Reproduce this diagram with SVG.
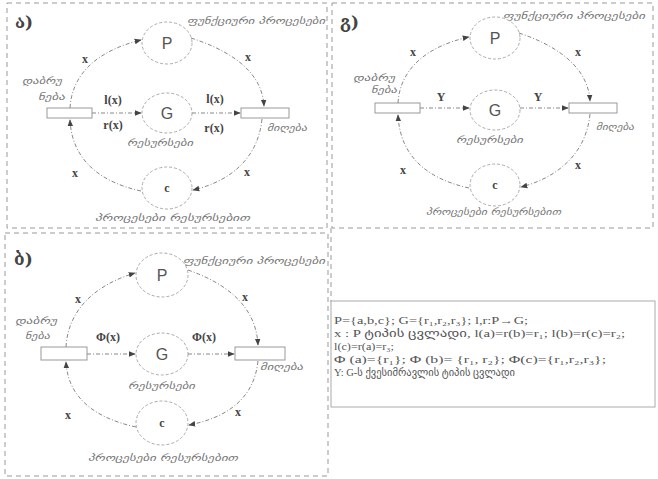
<svg xmlns="http://www.w3.org/2000/svg" width="658" height="479" viewBox="0 0 658 479">
<defs>
<marker id="ah" viewBox="0 0 10 10" refX="9" refY="5" markerWidth="7" markerHeight="7" orient="auto-start-reverse" markerUnits="userSpaceOnUse">
<path d="M0,1 L10,5 L0,9 z" fill="#444"/>
</marker>
<style>
.frame{fill:none;stroke:#999;stroke-width:1;stroke-dasharray:5,4}
.node{fill:#fff;stroke:#aaa;stroke-width:1;stroke-dasharray:3,2}
.box{fill:#fff;stroke:#999;stroke-width:1}
.edge{fill:none;stroke:#888;stroke-width:1;stroke-dasharray:4,2,1,2;marker-end:url(#ah)}
.geo{font-family:"DejaVu Sans",sans-serif;font-size:9px;fill:#777;font-style:italic}
.lbl{font-family:"Liberation Serif",serif;font-size:12px;font-weight:bold;fill:#444}
.nm{font-family:"Liberation Sans",sans-serif;font-size:16px;fill:#555;text-anchor:middle}
.pl{font-family:"DejaVu Serif",serif;font-size:17px;font-weight:bold;fill:#444}
.tx{font-family:"Liberation Serif","DejaVu Sans",serif;font-size:11px;fill:#555}
</style>
</defs>
<rect width="658" height="479" fill="#fff"/>
<!-- frames -->
<rect class="frame" x="7" y="3" width="320" height="225"/>
<rect class="frame" x="332" y="3" width="321" height="225"/>
<rect class="frame" x="5" y="233" width="323" height="243"/>
<line class="frame" x1="331" y1="228" x2="331" y2="302"/>

<!-- Panel a -->
<g id="panel-a">
<text class="pl" x="15" y="28">ა)</text>
<text class="geo" x="187" y="24" textLength="138" lengthAdjust="spacingAndGlyphs">ფუნქციური პროცესები</text>
<text class="geo" x="22" y="84" textLength="40" lengthAdjust="spacingAndGlyphs">დაბრუ</text>
<text class="geo" x="38" y="100" textLength="27" lengthAdjust="spacingAndGlyphs">ნება</text>
<text class="geo" x="267" y="131" textLength="40" lengthAdjust="spacingAndGlyphs">მიღება</text>
<text class="geo" x="127" y="146" textLength="66" lengthAdjust="spacingAndGlyphs">რესურსები</text>
<text class="geo" x="95" y="221" textLength="155" lengthAdjust="spacingAndGlyphs">პროცესები რესურსებით</text>
</g>
<g id="a-P"><ellipse class="node" cx="167" cy="43" rx="25" ry="21"/><text class="nm" x="167" y="49">P</text></g>
<g id="a-G"><ellipse class="node" cx="167" cy="113" rx="25" ry="20"/><text class="nm" x="167" y="119">G</text></g>
<g id="a-c"><ellipse class="node" cx="167" cy="188" rx="25" ry="21"/><text class="lbl" x="167" y="192" text-anchor="middle">c</text></g>
<g id="a-start"><rect class="box" x="47" y="108" width="45" height="10"/></g>
<g id="a-end"><rect class="box" x="241" y="108" width="48" height="10"/></g>
<g id="a-edges">
<path class="edge" d="M70,108 C72,72 100,50 141,40"/>
<path class="edge" d="M191,38 C228,50 262,70 264,106"/>
<path class="edge" d="M92,113 L141,113"/>
<path class="edge" d="M192,113 L240,113"/>
<path class="edge" d="M262,119 C258,160 228,182 193,190"/>
<path class="edge" d="M141,191 C100,182 72,160 70,120"/>
<text class="lbl" x="85" y="63" text-anchor="middle">x</text>
<text class="lbl" x="248" y="61" text-anchor="middle">x</text>
<text class="lbl" x="113" y="104" text-anchor="middle">l(x)</text>
<text class="lbl" x="113" y="129" text-anchor="middle">r(x)</text>
<text class="lbl" x="215" y="103" text-anchor="middle">l(x)</text>
<text class="lbl" x="214" y="132" text-anchor="middle">r(x)</text>
<text class="lbl" x="75" y="177" text-anchor="middle">x</text>
<text class="lbl" x="247" y="176" text-anchor="middle">x</text>
</g>

<!-- Panel g -->
<g id="panel-g">
<text class="pl" x="340" y="28">გ)</text>
<text class="geo" x="503" y="19" textLength="142" lengthAdjust="spacingAndGlyphs">ფუნქციური პროცესები</text>
<text class="geo" x="353" y="81" textLength="42" lengthAdjust="spacingAndGlyphs">დაბრუ</text>
<text class="geo" x="371" y="93" textLength="26" lengthAdjust="spacingAndGlyphs">ნება</text>
<text class="geo" x="596" y="130" textLength="38" lengthAdjust="spacingAndGlyphs">მიღება</text>
<text class="geo" x="456" y="143" textLength="67" lengthAdjust="spacingAndGlyphs">რესურსები</text>
<text class="geo" x="426" y="215" textLength="135" lengthAdjust="spacingAndGlyphs">პროცესები რესურსებით</text>
</g>
<g id="g-P"><ellipse class="node" cx="495" cy="38" rx="25" ry="21"/><text class="nm" x="495" y="44">P</text></g>
<g id="g-G"><ellipse class="node" cx="495" cy="110" rx="25" ry="20"/><text class="nm" x="495" y="116">G</text></g>
<g id="g-c"><ellipse class="node" cx="495" cy="185" rx="25" ry="21"/><text class="lbl" x="495" y="189" text-anchor="middle">c</text></g>
<g id="g-start"><rect class="box" x="375" y="103" width="45" height="10"/></g>
<g id="g-end"><rect class="box" x="569" y="103" width="48" height="10"/></g>
<g id="g-edges">
<path class="edge" d="M398,103 C400,68 428,46 469,37"/>
<path class="edge" d="M519,33 C555,45 588,66 590,101"/>
<path class="edge" d="M420,108 L469,108"/>
<path class="edge" d="M520,108 L568,108"/>
<path class="edge" d="M590,114 C586,155 556,178 521,187"/>
<path class="edge" d="M469,188 C428,179 400,157 398,115"/>
<text class="lbl" x="413" y="56" text-anchor="middle">x</text>
<text class="lbl" x="578" y="56" text-anchor="middle">x</text>
<text class="lbl" x="441" y="101" text-anchor="middle">Y</text>
<text class="lbl" x="538" y="101" text-anchor="middle">Y</text>
<text class="lbl" x="403" y="174" text-anchor="middle">x</text>
<text class="lbl" x="578" y="169" text-anchor="middle">x</text>
</g>

<!-- Panel b -->
<g id="panel-b">
<text class="pl" x="14" y="265">ბ)</text>
<text class="geo" x="183" y="264" textLength="142" lengthAdjust="spacingAndGlyphs">ფუნქციური პროცესები</text>
<text class="geo" x="15" y="324" textLength="42" lengthAdjust="spacingAndGlyphs">დაბრუ</text>
<text class="geo" x="25" y="339" textLength="25" lengthAdjust="spacingAndGlyphs">ნება</text>
<text class="geo" x="260" y="370" textLength="43" lengthAdjust="spacingAndGlyphs">მიღება</text>
<text class="geo" x="128" y="389" textLength="67" lengthAdjust="spacingAndGlyphs">რესურსები</text>
<text class="geo" x="88" y="461" textLength="150" lengthAdjust="spacingAndGlyphs">პროცესები რესურსებით</text>
</g>
<g id="b-P"><ellipse class="node" cx="162" cy="275" rx="26" ry="22"/><text class="nm" x="162" y="281">P</text></g>
<g id="b-G"><ellipse class="node" cx="162" cy="354" rx="26" ry="21"/><text class="nm" x="162" y="360">G</text></g>
<g id="b-c"><ellipse class="node" cx="162" cy="423" rx="26" ry="22"/><text class="lbl" x="162" y="427" text-anchor="middle">c</text></g>
<g id="b-start"><rect class="box" x="41" y="347" width="46" height="13"/></g>
<g id="b-end"><rect class="box" x="235" y="347" width="50" height="13"/></g>
<g id="b-edges">
<path class="edge" d="M66,347 C68,310 95,285 135,273"/>
<path class="edge" d="M188,270 C225,283 256,305 258,345"/>
<path class="edge" d="M87,354 L135,354"/>
<path class="edge" d="M188,354 L234,354"/>
<path class="edge" d="M258,361 C254,400 225,418 189,425"/>
<path class="edge" d="M136,427 C95,418 68,398 66,362"/>
<text class="lbl" x="78" y="303" text-anchor="middle">x</text>
<text class="lbl" x="245" y="301" text-anchor="middle">x</text>
<text class="lbl" x="108" y="341" text-anchor="middle">Φ(x)</text>
<text class="lbl" x="204" y="341" text-anchor="middle">Φ(x)</text>
<text class="lbl" x="68" y="419" text-anchor="middle">x</text>
<text class="lbl" x="238" y="416" text-anchor="middle">x</text>
</g>

<!-- Legend box -->
<g id="legend">
<rect x="331" y="301" width="324" height="106" fill="#fff" stroke="#aaa" stroke-width="1"/>
<text class="tx" x="334" y="324" textLength="194" lengthAdjust="spacingAndGlyphs">P={a,b,c}; G={r₁,r₂,r₃}; l,r:P→G;</text>
<text class="tx" x="334" y="337" textLength="291" lengthAdjust="spacingAndGlyphs">x : P ტიპის ცვლადი, l(a)=r(b)=r₁; l(b)=r(c)=r₂;</text>
<text class="tx" x="334" y="350" textLength="60" lengthAdjust="spacingAndGlyphs">l(c)=r(a)=r₃;</text>
<text class="tx" x="334" y="363" textLength="272" lengthAdjust="spacingAndGlyphs">Φ (a)={r₁}; Φ (b)= {r₁, r₂}; Φ(c)={r₁,r₂,r₃};</text>
<text class="tx" x="334" y="376" textLength="181" lengthAdjust="spacingAndGlyphs">Y: G-ს ქვესიმრავლის ტიპის ცვლადი</text>
</g>
</svg>
